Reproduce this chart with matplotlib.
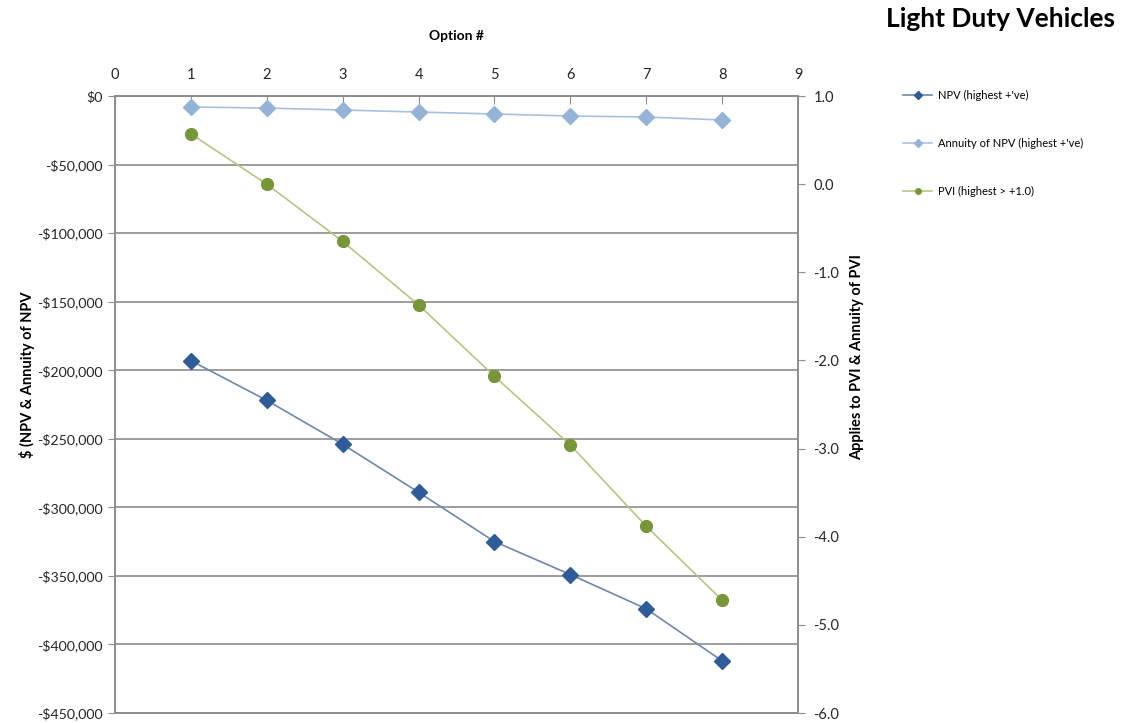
import matplotlib.pyplot as plt
from matplotlib.ticker import FuncFormatter, MultipleLocator

plt.rcParams['font.family'] = ['Lato', 'DejaVu Sans']

# Option numbers and series values
options = [1, 2, 3, 4, 5, 6, 7, 8]
npv = [-193000, -222000, -254000, -289000, -325000, -349000, -374000, -412000]
annuity_npv = [-8000, -8800, -10200, -11700, -13100, -14600, -15300, -17500]
pvi = [0.57, 0.00, -0.65, -1.37, -2.18, -2.96, -3.88, -4.72]

x_ticks = list(range(0, 10))
left_ticks = list(range(0, -450001, -50000))

GRID = '#8c8c8c'
TXT = '#262626'

fig = plt.figure(figsize=(11.21, 7.23), dpi=100)
ax = fig.add_axes([0.1026, 0.0138, 0.6093, 0.8534])
ax2 = ax.twinx()

l1, = ax.plot(options, npv, color='#6f87aa', lw=1.2, marker='D', ms=8,
              mfc='#2f5c99', mec='#2f5c99', label="NPV (highest +'ve)")
l2, = ax.plot(options, annuity_npv, color='#a9c1e0', lw=1.2, marker='D', ms=8,
              mfc='#95b3d7', mec='#95b3d7', label="Annuity of NPV (highest +'ve)")
l3, = ax2.plot(options, pvi, color='#b9c384', lw=1.2, marker='o', ms=8.5,
               mfc='#77963a', mec='#77963a', label="PVI (highest > +1.0)")

ax.set_xlim(0, 9)
ax.set_ylim(-450000, 0)
ax2.set_ylim(-6.0, 1.0)

ax.set_xticks(x_ticks)
ax.xaxis.tick_top()
ax.xaxis.set_label_position('top')
ax.tick_params(axis='x', direction='in', length=6, color=GRID, labelsize=10.5,
               labelcolor=TXT, pad=10)
ax.set_xlabel('Option #', fontsize=10, fontweight='bold', labelpad=20, color='black')

ax.set_yticks(left_ticks)
ax.yaxis.set_major_formatter(FuncFormatter(
    lambda v, p: '$0' if v == 0 else '-${:,.0f}'.format(abs(v))))
ax.tick_params(axis='y', direction='out', length=5, color=GRID, labelsize=10.2,
               labelcolor=TXT, pad=4)
ax.set_ylabel('$ (NPV & Annuity of NPV', fontsize=10.5, fontweight='bold')
ax.yaxis.set_label_coords(-0.117, 0.548)
ax.grid(axis='y', color=GRID, lw=1.2)
ax.set_axisbelow(True)

ax2.yaxis.set_major_locator(MultipleLocator(1.0))
ax2.yaxis.set_major_formatter(FuncFormatter(lambda v, p: '{:.1f}'.format(v)))
ax2.tick_params(axis='y', direction='out', length=5, color=GRID, labelsize=10.5,
                labelcolor=TXT, pad=6)
ax2.set_ylabel('Applies to PVI & Annuity of PVI', fontsize=10.5, fontweight='bold')
ax2.yaxis.set_label_coords(1.076, 0.577)

for a in (ax, ax2):
    for s in a.spines.values():
        s.set_color(GRID)
        s.set_linewidth(1.2)

fig.text(0.995, 0.99, 'Light Duty Vehicles', ha='right', va='top',
         fontsize=19, fontweight='bold', color='black')

leg_handles = []
for ln in (l1, l2, l3):
    h, = plt.plot([], [], color=ln.get_color(), marker=ln.get_marker(),
                  ms=4, mfc=ln.get_markerfacecolor(), mec=ln.get_markerfacecolor(), lw=1.2)
    leg_handles.append(h)
fig.legend(leg_handles, [l1.get_label(), l2.get_label(), l3.get_label()],
           loc='upper left', bbox_to_anchor=(0.797, 0.89), frameon=False,
           fontsize=8, handlelength=2.6, labelspacing=3.35, handletextpad=0.5)

fig.savefig('out.png', dpi=100)
